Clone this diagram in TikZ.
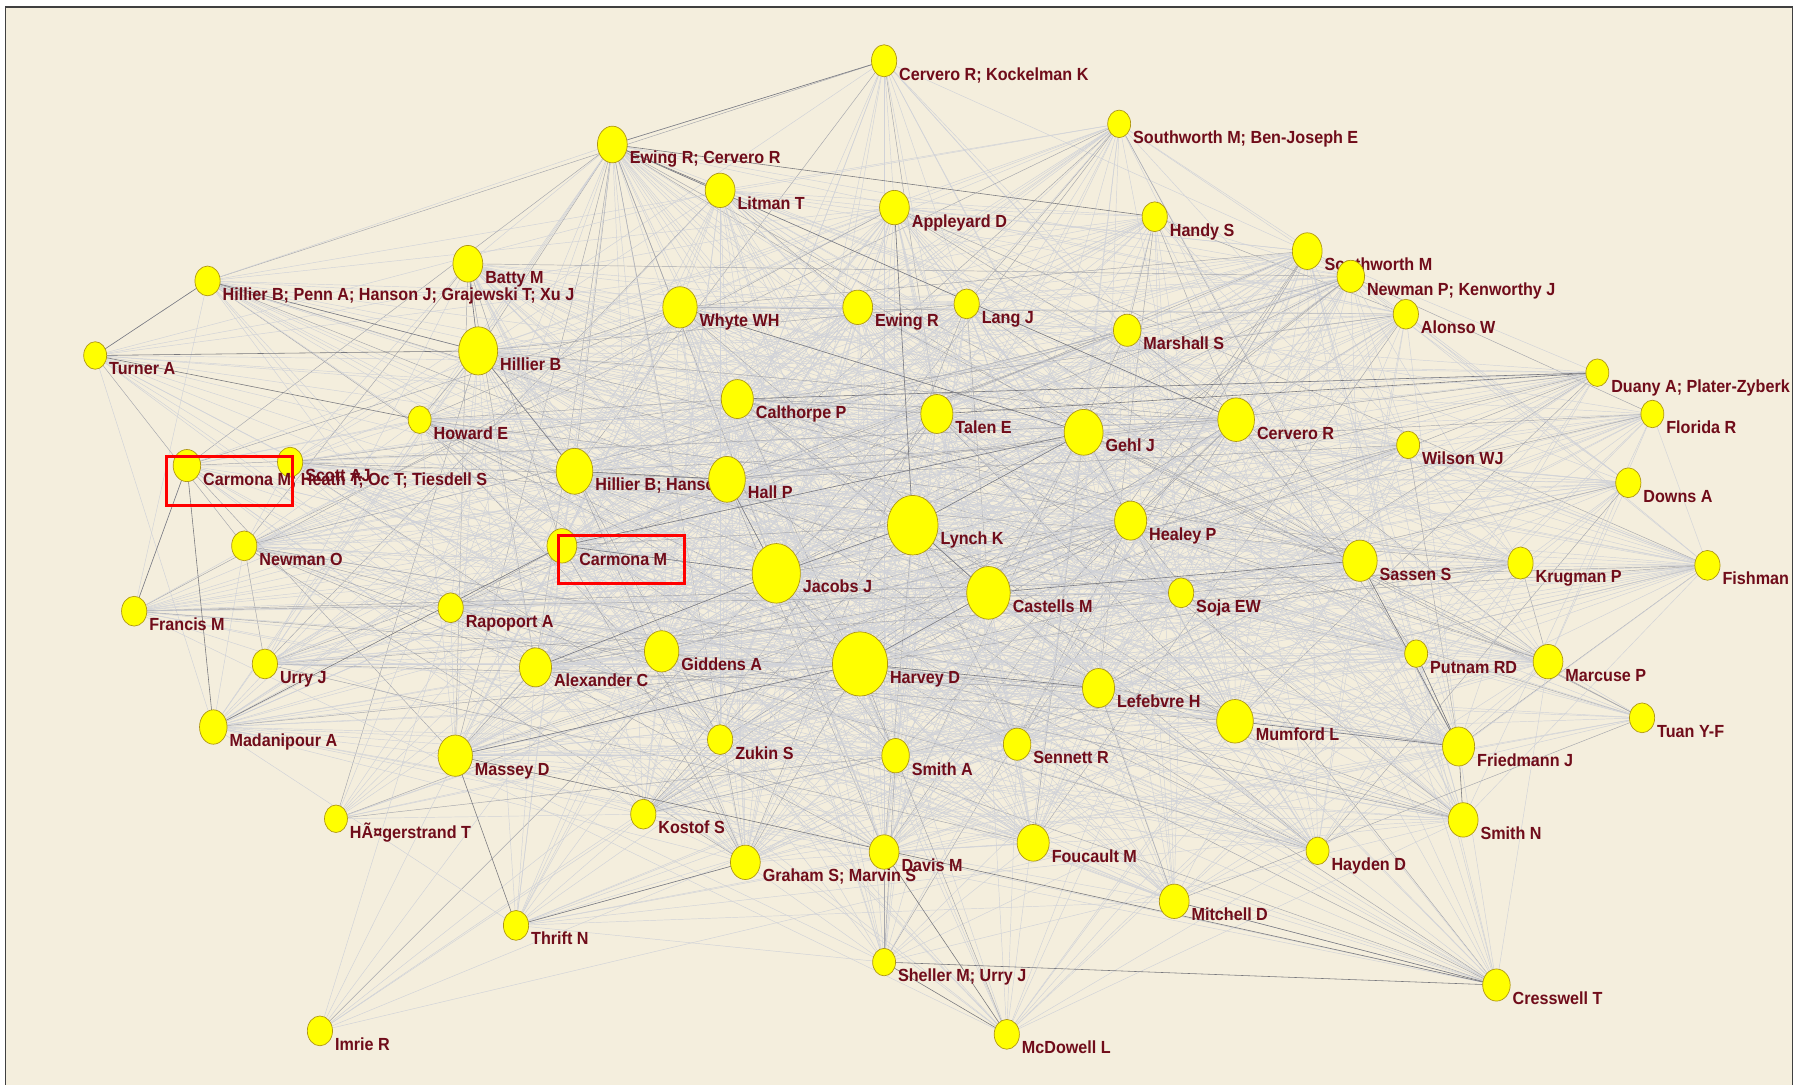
\documentclass[tikz,border=0pt]{standalone}
\usepackage{fontspec}
\newfontfamily\labfont{Liberation Sans}[FakeStretch=0.92]
\usetikzlibrary{shapes.geometric}
\definecolor{cream}{RGB}{244,238,221}
\definecolor{edgec}{RGB}{208,210,216}
\definecolor{edgem}{RGB}{165,166,172}
\definecolor{edged}{RGB}{120,120,125}
\definecolor{labc}{RGB}{112,12,26}
\definecolor{dotc}{RGB}{255,255,0}
\definecolor{dotb}{RGB}{175,150,20}
\def\nodelist{cerkoc/771/53/11/14/.45/Cervero R; Kockelman K,
swbj/976/108/10/12/.45/Southworth M; Ben-Joseph E,
ewcer/534/126/13/16/.7/Ewing R; Cervero R,
litman/628/166/13/15/.7/Litman T,
appleyard/780/181/13/15/.75/Appleyard D,
handy/1007/189/11/13/.55/Handy S,
southworth/1140/219/13/16/.7/Southworth M,
newken/1178/241/12/14/.7/Newman P; Kenworthy J,
batty/408/230/13/16/.7/Batty M,
hpenn/181/245/11/13/.4/Hillier B; Penn A; Hanson J; Grajewski T; Xu J,
whyte/593/268/15/18/.85/Whyte WH,
ewing/748/268/13/15/.8/Ewing R,
lang/843/265/11/13/.75/Lang J,
alonso/1226/274/11/13/.55/Alonso W,
marshall/983/288/12/14/.7/Marshall S,
turner/83/310/10/12/.3/Turner A,
hillier/417/306/17/21/.85/Hillier B,
duany/1393/325/10/12/.5/Duany A; Plater-Zyberk E,
calthorpe/643/348/14/17/.9/Calthorpe P,
talen/817/361/14/17/.9/Talen E,
howard/366/366/10/12/.7/Howard E,
florida/1441/361/10/12/.45/Florida R,
gehl/945/377/17/20/.95/Gehl J,
cervero/1078/366/16/19/.9/Cervero R,
wilson/1228/388/10/12/.6/Wilson WJ,
scott/253/403/11/13/.45/Scott AJ,
carmonaL/163/406/12/14/.4/Carmona M; Heath T; Oc T; Tiesdell S,
hhanson/501/411/16/20/.9/Hillier B; Hanson J,
hall/634/418/16/20/.95/Hall P,
downs/1420/421/11/13/.45/Downs A,
healey/986/454/14/17/.9/Healey P,
lynch/796/458/22/26/1/Lynch K,
newmanO/213/476/11/13/.55/Newman O,
carmona/490/476/13/15/.9/Carmona M,
jacobs/677/500/21/26/1/Jacobs J,
sassen/1186/489/15/18/.9/Sassen S,
krugman/1326/491/11/14/.6/Krugman P,
fishman/1489/493/11/13/.5/Fishman R,
castells/862/517/19/23/1/Castells M,
soja/1030/517/11/13/.8/Soja EW,
francis/117/533/11/13/.45/Francis M,
rapoport/393/530/11/13/.75/Rapoport A,
giddens/577/568/15/18/.9/Giddens A,
alexander/467/582/14/17/.9/Alexander C,
urry/231/579/11/13/.55/Urry J,
harvey/750/579/24/28/1/Harvey D,
putnam/1235/570/10/12/.65/Putnam RD,
marcuse/1350/577/13/15/.6/Marcuse P,
lefebvre/958/600/14/17/.9/Lefebvre H,
mumford/1077/629/16/19/.9/Mumford L,
tuan/1432/626/11/13/.3/Tuan Y-F,
friedmann/1272/651/14/17/.7/Friedmann J,
madanipour/186/634/12/15/.5/Madanipour A,
zukin/628/645/11/13/.85/Zukin S,
sennett/887/649/12/14/.85/Sennett R,
smithA/781/659/12/15/.8/Smith A,
massey/397/659/15/18/.8/Massey D,
kostof/561/710/11/13/.7/Kostof S,
hager/293/714/10/12/.25/HÃ¤gerstrand T,
smithN/1276/715/13/15/.6/Smith N,
foucault/901/735/14/16/.75/Foucault M,
hayden/1149/742/10/12/.55/Hayden D,
graham/650/752/13/15/.7/Graham S; Marvin S,
davis/771/743/13/15/.7/Davis M,
mitchell/1024/786/13/15/.55/Mitchell D,
thrift/450/807/11/13/.4/Thrift N,
sheller/771/839/10/12/.35/Sheller M; Urry J,
cresswell/1305/859/12/14/.45/Cresswell T,
mcdowell/878/902/11/13/.3/McDowell L,
imrie/279/899/11/13/.15/Imrie R}
\begin{document}
\begin{tikzpicture}[x=1pt,y=-1pt,
  hold/.style={ellipse,inner sep=0pt,outer sep=0pt},
  dot/.style={ellipse,inner sep=0pt,outer sep=0pt,fill=dotc,draw=dotb,line width=0.6pt},
  lab/.style={font=\labfont\bfseries\fontsize{15.3}{17}\selectfont,text=labc,inner sep=0pt,anchor=base west},
  eg/.style={draw=edgec,line width=0.4pt},
  em/.style={draw=edgem,line width=0.4pt},
  ed/.style={draw=edged,line width=0.5pt},
  redbox/.style={draw=red,line width=2.6pt},
  frame/.style={draw=black!75,line width=1.2pt}]
\useasboundingbox (0,0) rectangle (1568,946);
\fill[white] (0,0) rectangle (1568,946);
\fill[cream] (5,6) rectangle (1563,946);
\begin{scope}
\clip (5,6) rectangle (1563,946);
% node placeholders
\foreach \n/\x/\y/\rx/\ry/\w/\t in \nodelist {
  \node[hold,minimum width={2*\rx*1pt},minimum height={2*\ry*1pt}] (\n) at (\x,\y) {};
}
% connectors
\pgfmathsetseed{4711}
\foreach \a/\xa/\ya/\rxa/\rya/\wa/\ta [count=\i] in \nodelist {
  \foreach \b/\xb/\yb/\rxb/\ryb/\wb/\tb [count=\j] in \nodelist {
    \ifnum\j>\i
      \pgfmathsetmacro\p{1.3*\wa*\wb}
      \pgfmathsetmacro\r{rnd}
      \pgfmathtruncatemacro\ok{\r<\p}
      \pgfmathtruncatemacro\dk{\r<0.13*\p}
      \ifnum\ok=1
        \ifnum\dk=1 \draw[em] (\a) -- (\b); \else \draw[eg] (\a) -- (\b); \fi
      \fi
    \fi
  }
}
\foreach \a/\b in {turner/hillier,turner/howard,hpenn/hillier,hpenn/turner,ewcer/cerkoc,ewcer/handy,
  carmonaL/madanipour,thrift/massey,sheller/cresswell,sheller/mcdowell,davis/mcdowell,
  friedmann/putnam,mumford/friedmann,friedmann/smithN,jacobs/lynch,lynch/gehl,hillier/hhanson,
  jacobs/alexander,castells/sassen,harvey/lefebvre,harvey/castells,carmona/gehl,carmona/jacobs,
  hillier/batty,hhanson/hall,jacobs/hall,lynch/appleyard,ewcer/litman,cervero/ewcer,
  harvey/massey,mitchell/cresswell,massey/cresswell,thrift/graham,francis/carmonaL,
  duany/calthorpe,talen/duany,lynch/castells,gehl/whyte,sassen/friedmann,madanipour/carmona} {
  \draw[ed] (\a) -- (\b);
}
% visible nodes and labels
\foreach \n/\x/\y/\rx/\ry/\w/\t in \nodelist {
  \node[dot,minimum width={2*\rx*1pt},minimum height={2*\ry*1pt}] (v-\n) at (\n) {};
  \node[lab] (l-\n) at ({\x+\rx+2},{\y+17}) {\t};
}
\draw[redbox] (145,398) rectangle (255,441);
\draw[redbox] (487,467) rectangle (597,509);
\end{scope}
\draw[frame] (5,946) -- (5,6) -- (1563,6) -- (1563,946);
\end{tikzpicture}
\end{document}
